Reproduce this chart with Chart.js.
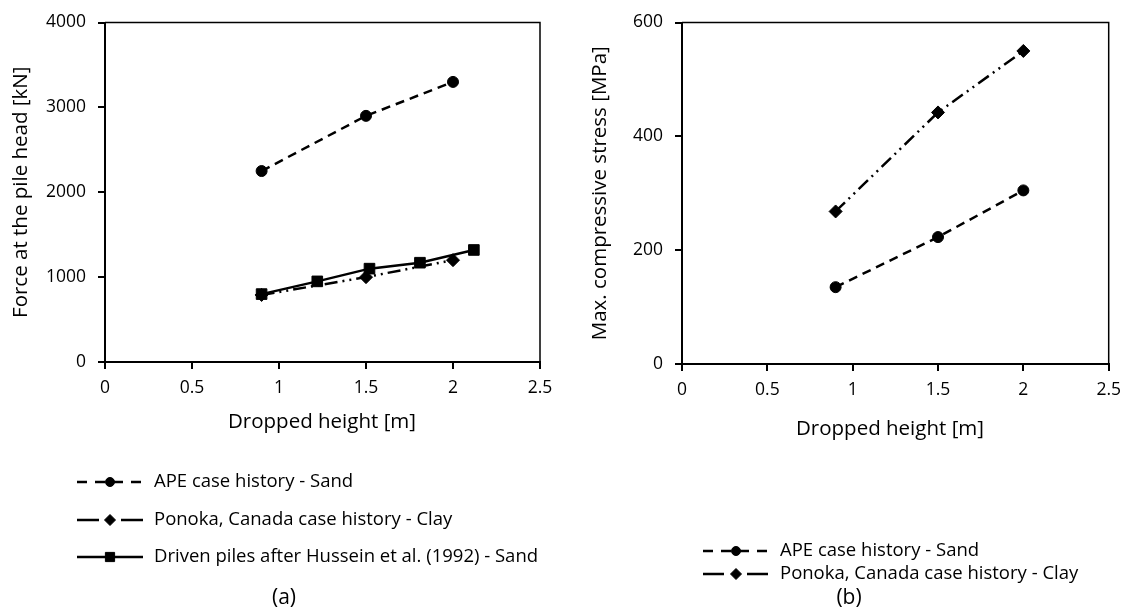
<!DOCTYPE html>
<html>
<head>
<meta charset="utf-8">
<script src="https://cdn.jsdelivr.net/npm/chart.js@4.4.1/dist/chart.umd.min.js"></script>
<style>
  html, body { margin: 0; padding: 0; background: #fff; }
  #wrap { position: relative; width: 1130px; height: 614px; }
  .panel { position: absolute; top: 0; width: 565px; height: 614px; }
</style>
</head>
<body>
<div id="wrap">
  <div class="panel" style="left:0"><canvas id="chartA"></canvas></div>
  <div class="panel" style="left:565px"><canvas id="chartB"></canvas></div>
</div>
<script>
"use strict";

// values
const dropHeight = [0.9, 1.5, 2.0];
const forceApe = [2250, 2900, 3300];
const forcePonoka = [790, 1000, 1200];
const husseinHeight = [0.9, 1.22, 1.52, 1.81, 2.12];
const forceHussein = [800, 950, 1100, 1170, 1320];
const stressApe = [135, 223, 305];
const stressPonoka = [268, 442, 550];

const xTicks = [0, 0.5, 1, 1.5, 2, 2.5];
const forceTicks = [0, 1000, 2000, 3000, 4000];
const stressTicks = [0, 200, 400, 600];

const labelApe = 'APE case history - Sand';
const labelPonoka = 'Ponoka, Canada case history - Clay';
const labelHussein = 'Driven piles after Hussein et al. (1992) - Sand';

const FONT = '"Open Sans", sans-serif';

const pts = (xs, ys) => xs.map((x, i) => ({ x: x, y: ys[i] }));

function series(label, data, style) {
    return Object.assign({
        label: label,
        data: data,
        showLine: true,
        borderColor: '#000',
        backgroundColor: '#000',
        borderWidth: 2.5,
        pointBackgroundColor: '#000',
        pointBorderColor: '#000',
        pointBorderWidth: 1,
        tension: 0
    }, style);
}

const apeStyle = { borderDash: [9, 6], legendDash: [10, 8], pointStyle: 'circle', pointRadius: 5.5, legendRadius: 4.5 };
const ponokaStyle = { borderDash: [13, 5, 2, 5, 2, 5], pointStyle: 'rectRot', pointRadius: 6.5, legendRadius: 5.5 };
const husseinStyle = { borderDash: [], pointStyle: 'rect', pointRadius: 7.5, legendRadius: 6.5 };

// box line on top / right of the plot area
const framePlugin = {
    id: 'frame',
    beforeDatasetsDraw(chart) {
        const { ctx, chartArea: a } = chart;
        ctx.save();
        ctx.strokeStyle = '#000';
        ctx.lineWidth = 1.5;
        ctx.beginPath();
        ctx.moveTo(a.left, a.top);
        ctx.lineTo(a.right, a.top);
        ctx.lineTo(a.right, a.bottom);
        ctx.stroke();
        ctx.restore();
    }
};

// x title, legend and caption under each plot
const panelTextPlugin = {
    id: 'panelText',
    afterDraw(chart, args, opts) {
        const ctx = chart.ctx;
        ctx.save();
        ctx.fillStyle = '#000';
        ctx.textBaseline = 'middle';

        ctx.font = '20.5px ' + FONT;
        ctx.textAlign = 'center';
        ctx.fillText(opts.xTitle.text, opts.xTitle.x, opts.xTitle.y);

        const L = opts.legend;
        chart.data.datasets.forEach((ds, i) => {
            const y = L.ys[i];
            ctx.strokeStyle = '#000';
            ctx.lineWidth = 2.5;
            ctx.setLineDash(ds.legendDash || ds.borderDash || []);
            ctx.beginPath();
            ctx.moveTo(L.x0, y);
            ctx.lineTo(L.x1, y);
            ctx.stroke();
            ctx.setLineDash([]);
            ctx.lineWidth = 1;
            Chart.helpers.drawPoint(ctx, {
                pointStyle: ds.pointStyle, radius: ds.legendRadius, borderWidth: 1, rotation: 0
            }, L.mark, y);
            ctx.font = '18.5px ' + FONT;
            ctx.textAlign = 'left';
            ctx.fillText(ds.label, L.textX, y);
        });

        ctx.font = '21px ' + FONT;
        ctx.textAlign = 'center';
        ctx.fillText(opts.caption.text, opts.caption.x, opts.caption.y);
        ctx.restore();
    }
};

function makeChart(id, p) {
    return new Chart(document.getElementById(id), {
        type: 'scatter',
        data: { datasets: p.datasets },
        options: {
            responsive: true,
            maintainAspectRatio: false,
            animation: false,
            layout: { padding: { left: 0, right: p.padRight, top: p.padTop, bottom: 614 - p.bottom - 40 } },
            scales: {
                x: {
                    type: 'linear',
                    min: 0,
                    max: 2.5,
                    afterBuildTicks: s => { s.ticks = xTicks.map(v => ({ value: v })); },
                    afterFit: s => { s.height = 40; },
                    border: { color: '#000', width: 2 },
                    grid: { drawOnChartArea: false, drawTicks: true, tickLength: 7, color: '#000', lineWidth: 2 },
                    ticks: {
                        color: '#000', font: { family: FONT, size: 17.5 }, padding: 9, maxRotation: 0,
                        callback: v => String(v)
                    }
                },
                y: {
                    type: 'linear',
                    min: 0,
                    max: p.yTicks[p.yTicks.length - 1],
                    afterBuildTicks: s => { s.ticks = p.yTicks.map(v => ({ value: v })); },
                    afterFit: s => { s.width = p.yWidth; },
                    border: { color: '#000', width: 2 },
                    grid: { drawOnChartArea: false, drawTicks: true, tickLength: 7, color: '#000', lineWidth: 2 },
                    ticks: {
                        color: '#000', font: { family: FONT, size: 17.5 }, padding: 12,
                        callback: v => String(v)
                    },
                    title: {
                        display: true,
                        text: p.yTitle,
                        color: '#000',
                        font: { family: FONT, size: 20.5 },
                        padding: { top: p.yTitlePad, bottom: 0 }
                    }
                }
            },
            plugins: {
                legend: { display: false },
                tooltip: { enabled: false },
                panelText: p.text
            }
        },
        plugins: [framePlugin, panelTextPlugin]
    });
}

makeChart('chartA', {
    datasets: [
        series(labelApe, pts(dropHeight, forceApe), apeStyle),
        series(labelPonoka, pts(dropHeight, forcePonoka), Object.assign({}, ponokaStyle, { legendDash: [22, 22] })),
        series(labelHussein, pts(husseinHeight, forceHussein), husseinStyle)
    ],
    yTicks: forceTicks,
    yTitle: 'Force at the pile head [kN]',
    yTitlePad: 9,
    yWidth: 105,
    padTop: 18,
    padRight: 25,
    bottom: 362,
    text: {
        xTitle: { text: 'Dropped height [m]', x: 322, y: 422 },
        legend: { x0: 77, x1: 143, mark: 110, textX: 154, ys: [482, 520, 557] },
        caption: { text: '(a)', x: 284, y: 598 }
    }
});

makeChart('chartB', {
    datasets: [
        series(labelApe, pts(dropHeight, stressApe), apeStyle),
        series(labelPonoka, pts(dropHeight, stressPonoka), Object.assign({}, ponokaStyle, { legendDash: [21, 23] }))
    ],
    yTicks: stressTicks,
    yTitle: 'Max. compressive stress [MPa]',
    yTitlePad: 23,
    yWidth: 117,
    padTop: 19,
    padRight: 19,
    bottom: 364,
    text: {
        xTitle: { text: 'Dropped height [m]', x: 325, y: 429 },
        legend: { x0: 138, x1: 204, mark: 171, textX: 215, ys: [551, 574] },
        caption: { text: '(b)', x: 284, y: 598 }
    }
});
</script>
</body>
</html>
